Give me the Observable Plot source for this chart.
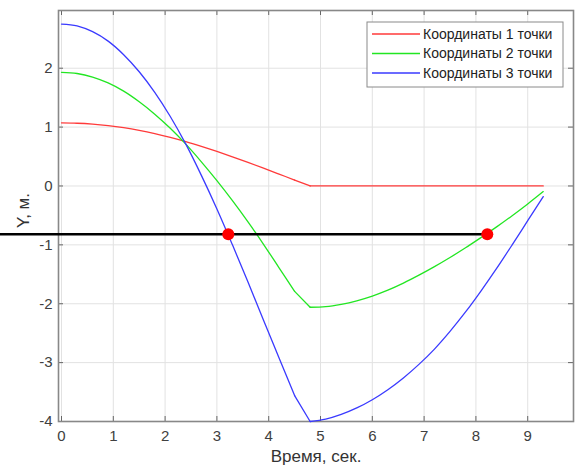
<!DOCTYPE html>
<html><head><meta charset="utf-8">
<script src="https://cdn.jsdelivr.net/npm/d3@7"></script>
<script src="https://cdn.jsdelivr.net/npm/@observablehq/plot@0.6"></script>
<style>body{margin:0;background:#fff;}</style>
</head><body><div id="chart"></div>
<script>
// time samples, seconds
const time = [0,0.3,0.6,0.9,1.2,1.5,1.8,2.1,2.4,2.7,3.0,3.3,3.6,3.9,4.2,4.5,4.8,5.1,5.4,5.7,6.0,6.3,6.6,6.9,7.2,7.5,7.8,8.1,8.4,8.7,9.0,9.3];
const point1 = [1.07,1.065,1.05,1.025,0.99,0.945,0.89,0.825,0.753,0.672,0.586,0.495,0.40,0.302,0.202,0.101,0.0,0,0,0,0,0,0,0,0,0,0,0,0,0,0,0];
const point2 = [1.93,1.91,1.85,1.75,1.61,1.43,1.22,0.98,0.71,0.41,0.09,-0.25,-0.61,-0.99,-1.39,-1.79,-2.06,-2.05,-2.01,-1.95,-1.87,-1.77,-1.65,-1.515,-1.37,-1.215,-1.05,-0.875,-0.695,-0.505,-0.305,-0.095];
const point3 = [2.75,2.72,2.62,2.46,2.23,1.94,1.59,1.18,0.71,0.18,-0.39,-1.00,-1.63,-2.28,-2.92,-3.56,-4.00,-3.96,-3.88,-3.77,-3.63,-3.46,-3.26,-3.03,-2.77,-2.47,-2.14,-1.78,-1.40,-1.00,-0.59,-0.18];
const seriesNames = ["Координаты 1 точки","Координаты 2 точки","Координаты 3 точки"];
const seriesColors = ["#ff3a3a","#22e622","#3a3aff"];
const xTicks = [0,1,2,3,4,5,6,7,8,9];
const yTicks = [-4,-3,-2,-1,0,1,2];
const xLabel = "Время, сек.";
const yLabel = "Y, м.";
const levelY = -0.82;
const levelStartX = -1.18;
const crossX = [3.22, 8.22];
// sample indices where the motion changes (kinks kept sharp)
const breakIdx = [15, 16];

const seriesValues = [point1, point2, point3];
const segOf = i => [i <= breakIdx[0] ? 0 : null, i >= breakIdx[0] && i <= breakIdx[1] ? 1 : null, i >= breakIdx[1] ? 2 : null];
const rows = seriesValues.flatMap((vals, s) => vals.flatMap((v, i) =>
  segOf(i).filter(g => g !== null).map(g => ({t: time[i], y: v, s: seriesNames[s], z: s + "-" + g}))));

const W = 576, H = 472, mL = 58, mR = 3, mT = 10, mB = 51;
const pw = W - mL - mR, ph = H - mT - mB, tick = 5;
const font = "'Liberation Sans', Arial, sans-serif";

const plot = Plot.plot({
  width: W, height: H, marginLeft: mL, marginRight: mR, marginTop: mT, marginBottom: mB,
  x: {domain: [-0.058, 9.884], label: null},
  y: {domain: [-4, 2.98], label: null},
  color: {domain: seriesNames, range: seriesColors},
  style: {fontFamily: font, fontSize: "15px", color: "#404040", background: "#fff"},
  marks: [
    Plot.gridX(xTicks, {stroke: "#e2e2e2", strokeOpacity: 1}),
    Plot.gridY(yTicks, {stroke: "#e2e2e2", strokeOpacity: 1}),
    Plot.tickX(xTicks, {x: d => d, stroke: "#666", insetTop: ph - tick}),
    Plot.tickX(xTicks, {x: d => d, stroke: "#666", insetBottom: ph - tick}),
    Plot.tickY(yTicks, {y: d => d, stroke: "#666", insetRight: pw - tick}),
    Plot.tickY(yTicks, {y: d => d, stroke: "#666", insetLeft: pw - tick}),
    Plot.frame({stroke: "#888", strokeWidth: 1.6}),
    Plot.axisX(xTicks, {tickSize: 0, tickPadding: 9, label: null, fill: "#404040", fontSize: 15, tickFormat: d => String(d)}),
    Plot.axisY(yTicks, {tickSize: 0, tickPadding: 6, label: null, fill: "#404040", fontSize: 15, tickFormat: d => String(d)}),
    Plot.text([xLabel], {frameAnchor: "bottom", dy: 40, fontSize: 17, fill: "#333"}),
    Plot.text([yLabel], {frameAnchor: "left", dx: -35, dy: 12, rotate: -90, fontSize: 17, fill: "#333"}),
    Plot.line(rows, {x: "t", y: "y", stroke: "s", z: "z", strokeWidth: 1.3, curve: "catmull-rom"}),
    Plot.ruleY([levelY], {x1: levelStartX, x2: crossX[1], stroke: "#000", strokeWidth: 2.5}),
    Plot.dot(crossX, {x: d => d, y: () => levelY, r: 6, fill: "#ff0000", stroke: "none"})
  ]
});

// legend inside the axes (top-right)
const svg = d3.select(plot);
const bx = W - mR - 206, by = mT + 12, bw = 196, bh = 65;
const lg = svg.append("g").attr("text-anchor", "start");
lg.append("rect").attr("x", bx).attr("y", by).attr("width", bw).attr("height", bh)
  .attr("fill", "#fff").attr("stroke", "#8a8a8a").attr("stroke-width", 1);
seriesNames.forEach((name, i) => {
  const yy = by + 12 + i * 19.5;
  lg.append("line").attr("x1", bx + 5).attr("x2", bx + 53).attr("y1", yy).attr("y2", yy)
    .attr("stroke", seriesColors[i]).attr("stroke-width", 1.6);
  lg.append("text").attr("x", bx + 56).attr("y", yy).attr("dy", "0.35em")
    .attr("text-anchor", "start")
    .attr("font-family", font).attr("font-size", 14).attr("fill", "#222").text(name);
});

document.getElementById("chart").appendChild(plot);
</script>
</body></html>
